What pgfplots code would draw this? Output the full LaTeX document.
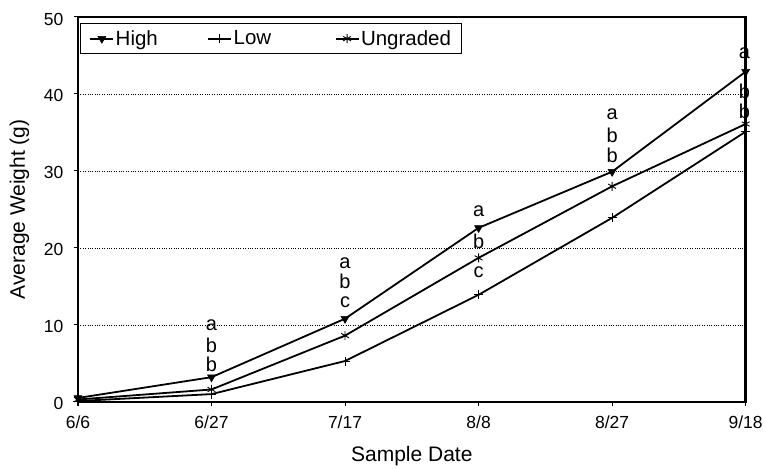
\documentclass[border=0pt]{standalone}
\usepackage{fontspec}
\setmainfont{Liberation Sans}
\usepackage{pgfplots}
\pgfplotsset{compat=1.18}
\pgfplotsset{
  mylegend/.style={legend image code/.code={
    \draw[mark repeat=2, mark phase=2, ##1] plot coordinates {(0bp,0bp) (11.5bp,0bp) (23bp,0bp)};}},
}
\begin{document}
\begin{tikzpicture}
\begin{axis}[
  scale only axis, width=668bp, height=385bp,
  xmin=0, xmax=5, ymin=0, ymax=50,
  xtick={0,1,2,3,4,5}, xticklabels={6/6,6/27,7/17,8/8,8/27,9/18},
  ytick={0,10,20,30,40,50},
  /pgf/number format/assume math mode=true,
  ticklabel style={font=\fontsize{17.5bp}{20bp}\selectfont},
  yticklabel style={xshift=-7bp, yshift=-2bp},
  xticklabel style={yshift=-7bp},
  xlabel={Sample Date}, ylabel={Average Weight (g)},
  label style={font=\fontsize{21bp}{24bp}\selectfont},
  xlabel style={yshift=-10bp}, ylabel style={yshift=8bp},
  axis line style={line width=2.4bp},
  ymajorgrids, grid style={dotted, black, line width=0.6bp},
  major tick length=4bp, tick style={black, line width=1bp},
  xtick pos=bottom, ytick pos=left, tick align=outside,
  clip=false,
  legend columns=3,
  legend style={at={(rel axis cs:0,1)}, xshift=2bp, yshift=-6bp, anchor=north west, draw=black, line width=1bp,
    font=\fontsize{20.5bp}{23bp}\selectfont, inner xsep=9bp, inner ysep=5bp,
    nodes={inner xsep=1.5bp},
    /tikz/column 2/.style={column sep=48bp},
    /tikz/column 4/.style={column sep=62bp}},
  legend cell align=left,
]
\addplot[black, line width=1.8bp, mark=triangle*, mark size=4.6bp, mylegend, mark options={rotate=180, line width=0.6bp}]
 coordinates {(0,0.5) (1,3.2) (2,10.8) (3,22.6) (4,29.9) (5,42.9)};
\addlegendentry{High}
\addplot[black, line width=1.8bp, mark=+, mark size=4.5bp, mylegend, mark options={line width=0.9bp}]
 coordinates {(0,0.1) (1,1.0) (2,5.3) (3,13.9) (4,23.9) (5,35.1)};
\addlegendentry{Low}
\addplot[black, line width=1.8bp, mark=asterisk, mark size=4.5bp, mylegend, mark options={line width=0.9bp}]
 coordinates {(0,0.3) (1,1.6) (2,8.6) (3,18.7) (4,28.0) (5,36.1)};
\addlegendentry{Ungraded}
\begin{scope}[every node/.style={font=\fontsize{20bp}{23bp}\selectfont, inner sep=0pt}]
\node at (axis cs:1,10.0) {a};
\node at (axis cs:1,7.4) {b};
\node at (axis cs:1,4.9) {b};
\node at (axis cs:2,18.0) {a};
\node at (axis cs:2,15.6) {b};
\node at (axis cs:2,12.9) {c};
\node at (axis cs:3,24.8) {a};
\node at (axis cs:3,20.8) {b};
\node at (axis cs:3,16.8) {c};
\node at (axis cs:4,37.4) {a};
\node at (axis cs:4,34.6) {b};
\node at (axis cs:4,32.0) {b};
\node at (axis cs:4.99,45.3) {a};
\node at (axis cs:4.99,40.3) {b};
\node at (axis cs:4.99,37.7) {b};
\end{scope}
\path (rel axis cs:0,0) ++(-78bp,-64bp) (rel axis cs:1,1) ++(20bp,17bp);
\end{axis}
\end{tikzpicture}
\end{document}
